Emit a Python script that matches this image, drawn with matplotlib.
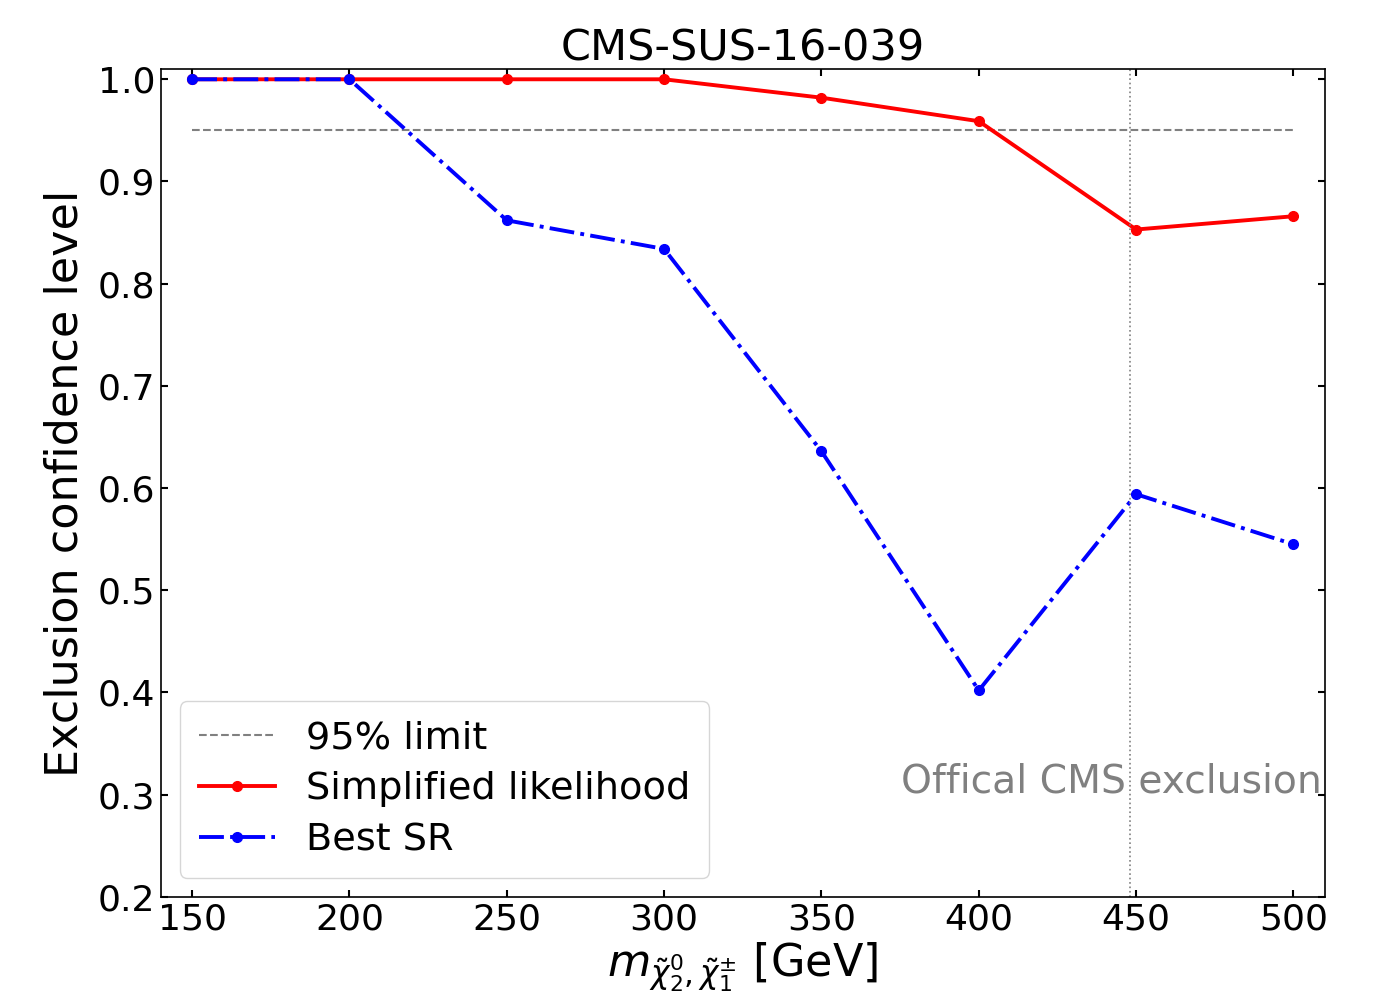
import matplotlib
matplotlib.use("Agg")
import matplotlib.pyplot as plt

masses = [150, 200, 250, 300, 350, 400, 450, 500]
cl_simplified = [1.0, 1.0, 1.0, 1.0, 0.982, 0.959, 0.853, 0.866]
cl_best_sr = [1.0, 1.0, 0.862, 0.834, 0.636, 0.402, 0.594, 0.545]
limit = 0.95
cms_exclusion = 448

fig = plt.figure(figsize=(13.73, 10.01), dpi=100)
ax = fig.add_axes([0.117, 0.104, 0.848, 0.827])

ax.plot([masses[0], masses[-1]], [limit, limit], color='gray', linestyle='--', linewidth=1.5, label='95% limit')
ax.plot(masses, cl_simplified, color='red', marker='o', markersize=7, linewidth=2.8, label='Simplified likelihood')
ax.plot(masses, cl_best_sr, color='blue', marker='o', markersize=7, linewidth=2.8, linestyle='-.', label='Best SR')
ax.axvline(cms_exclusion, color='gray', linestyle=':', linewidth=1.2)
ax.text(509, 0.313, 'Offical CMS exclusion', color='gray', fontsize=28.3, ha='right', va='center')

ax.set_xlim(140, 510)
ax.set_ylim(0.2, 1.01)
ax.set_xticks(masses)
ax.set_yticks([0.2, 0.3, 0.4, 0.5, 0.6, 0.7, 0.8, 0.9, 1.0])
ax.tick_params(direction='in', top=True, right=True, labelsize=26, length=5, width=1.5, pad=4)
for s in ax.spines.values():
    s.set_linewidth(1.2)

ax.set_xlabel(r'$m_{\tilde{\chi}_2^0,\tilde{\chi}_1^{\pm}}$ [GeV]', fontsize=32, labelpad=3)
ax.set_ylabel('Exclusion confidence level', fontsize=32, labelpad=8)
ax.set_title('CMS-SUS-16-039', fontsize=31, pad=6)
ax.legend(loc='lower left', fontsize=27.5, handlelength=2.0, borderpad=0.5, labelspacing=0.4, handletextpad=0.8)

fig.savefig('out.png', dpi=100)
